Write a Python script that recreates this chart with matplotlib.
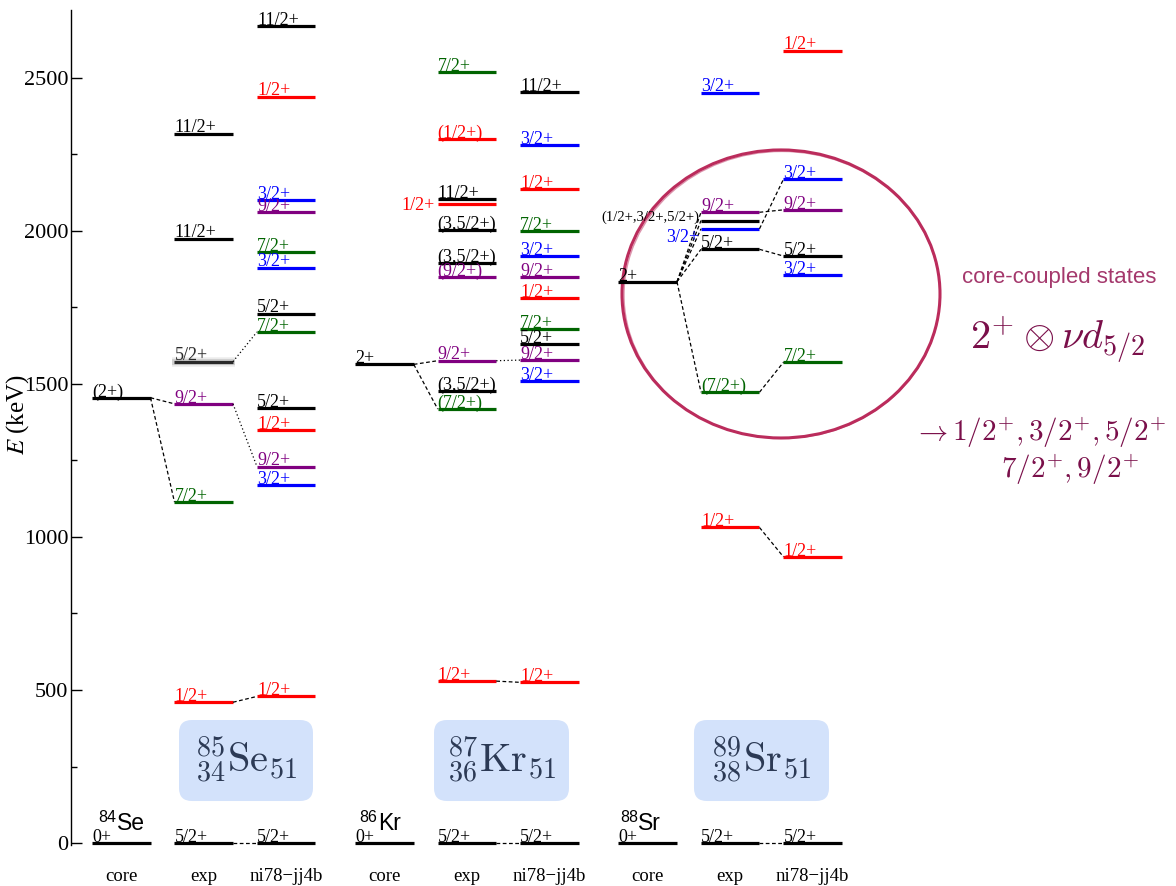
import matplotlib
matplotlib.use("Agg")
import matplotlib.pyplot as plt
from matplotlib.patches import Ellipse, FancyBboxPatch
from matplotlib.ticker import MultipleLocator

plt.rcParams['mathtext.fontset'] = 'cm'

# ---------------- data (keV) ----------------
groups = ["Se", "Kr", "Sr"]
core_mass = ["84", "86", "88"]
core_elem = ["Se", "Kr", "Sr"]
box_labels = [r"$^{85}_{34}\mathrm{Se}_{51}$", r"$^{87}_{36}\mathrm{Kr}_{51}$", r"$^{89}_{38}\mathrm{Sr}_{51}$"]
column_names = ["core", "exp", "ni78\u2212jj4b"]

core_E = [[0, 1455], [0, 1564], [0, 1834]]
core_lab = [["0+", "(2+)"], ["0+", "2+"], ["0+", "2+"]]

se_exp_E = [0, 460, 1114, 1435, 1573, 1975, 2318]
se_exp_lab = ["5/2+", "1/2+", "7/2+", "9/2+", "5/2+", "11/2+", "11/2+"]
se_exp_col = ["k", "r", "g", "p", "gray", "k", "k"]

se_ni_E = [0, 479, 1169, 1230, 1350, 1420, 1670, 1730, 1880, 1930, 2061, 2101, 2439, 2670]
se_ni_lab = ["5/2+", "1/2+", "3/2+", "9/2+", "1/2+", "5/2+", "7/2+", "5/2+", "3/2+", "7/2+", "9/2+", "3/2+", "1/2+", "11/2+"]
se_ni_col = ["k", "r", "b", "p", "r", "k", "g", "k", "b", "g", "p", "b", "r", "k"]

kr_exp_E = [0, 529, 1418, 1477, 1576, 1849, 1896, 2003, 2087, 2103, 2300, 2519]
kr_exp_lab = ["5/2+", "1/2+", "(7/2+)", "(3,5/2+)", "9/2+", "(9/2+)", "(3,5/2+)", "(3,5/2+)", "1/2+", "11/2+", "(1/2+)", "7/2+"]
kr_exp_col = ["k", "r", "g", "k", "p", "p", "k", "k", "r", "k", "r", "g"]

kr_ni_E = [0, 525, 1510, 1578, 1630, 1679, 1780, 1849, 1919, 2000, 2136, 2280, 2453]
kr_ni_lab = ["5/2+", "1/2+", "3/2+", "9/2+", "5/2+", "7/2+", "1/2+", "9/2+", "3/2+", "7/2+", "1/2+", "3/2+", "11/2+"]
kr_ni_col = ["k", "r", "b", "p", "k", "g", "r", "p", "b", "g", "r", "b", "k"]

sr_exp_E = [0, 1031, 1473, 1940, 2007, 2034, 2061, 2452]
sr_exp_lab = ["5/2+", "1/2+", "(7/2+)", "5/2+", "3/2+", "(1/2+,3/2+,5/2+)", "9/2+", "3/2+"]
sr_exp_col = ["k", "r", "g", "k", "b", "k", "p", "b"]

sr_ni_E = [0, 935, 1571, 1856, 1918, 2069, 2169, 2589]
sr_ni_lab = ["5/2+", "1/2+", "7/2+", "3/2+", "5/2+", "9/2+", "3/2+", "1/2+"]
sr_ni_col = ["k", "r", "g", "b", "k", "p", "b", "r"]

exp_E = [se_exp_E, kr_exp_E, sr_exp_E]
exp_lab = [se_exp_lab, kr_exp_lab, sr_exp_lab]
exp_col = [se_exp_col, kr_exp_col, sr_exp_col]
ni_E = [se_ni_E, kr_ni_E, sr_ni_E]
ni_lab = [se_ni_lab, kr_ni_lab, sr_ni_lab]
ni_col = [se_ni_col, kr_ni_col, sr_ni_col]

# connections: (group, from column, from index, to column, to index, style)
links = [
    (0, 0, 1, 1, 3, '--'), (0, 0, 1, 1, 2, '--'), (0, 1, 3, 2, 3, ':'),
    (0, 1, 4, 2, 6, ':'), (0, 1, 1, 2, 1, '--'), (0, 1, 0, 2, 0, '--'),
    (1, 0, 1, 1, 4, '--'), (1, 0, 1, 1, 2, '--'), (1, 1, 4, 2, 3, ':'),
    (1, 1, 1, 2, 1, '--'), (1, 1, 0, 2, 0, '--'),
    (2, 0, 1, 1, 2, '--'), (2, 0, 1, 1, 3, '--'), (2, 0, 1, 1, 4, '--'),
    (2, 0, 1, 1, 5, '--'), (2, 0, 1, 1, 6, '--'),
    (2, 1, 2, 2, 2, '--'), (2, 1, 3, 2, 4, '--'), (2, 1, 4, 2, 6, '--'),
    (2, 1, 6, 2, 5, '--'), (2, 1, 1, 2, 1, '--'), (2, 1, 0, 2, 0, '--'),
]

# labels drawn to the left of their level: (group, column, index)
left_labels = [(1, 1, 8), (2, 1, 4), (2, 1, 5)]

# ---------------- styling ----------------
cmap = {"k": "black", "r": "#ff0000", "b": "#0000ff", "g": "#006400", "p": "#800080", "gray": "#2a2a2a"}
serif = ["Liberation Serif", "DejaVu Serif"]
sans = ["Liberation Sans", "DejaVu Sans"]
W = 1.0
col_off = [0.0, 1.41, 2.82]
grp_off = 4.5
PX_X = 58.5     # pixels per x unit
PX_E = 0.306    # pixels per keV

fig = plt.figure(figsize=(11.76, 8.86), dpi=100)
ax = fig.add_axes([71 / 1176, 1 - 845 / 886, 1 - 71 / 1176, 835 / 886])
ax.set_xlim(-0.359, 18.53)
ax.set_ylim(-6.5, 2722)

def xleft(g, c):
    return g * grp_off + col_off[c]

def colE(g, c):
    return core_E[g] if c == 0 else (exp_E[g] if c == 1 else ni_E[g])

LFS = 13
for g in range(3):
    cols = [(core_E[g], core_lab[g], ["k"] * len(core_E[g])),
            (exp_E[g], exp_lab[g], exp_col[g]),
            (ni_E[g], ni_lab[g], ni_col[g])]
    for c, (Es, labs, cs) in enumerate(cols):
        x0 = xleft(g, c)
        for i, (E, lab, cc) in enumerate(zip(Es, labs, cs)):
            color = cmap[cc]
            if cc == "gray":
                for lw, a in [(7, 0.10), (4.5, 0.22)]:
                    ax.plot([x0 - 0.05, x0 + W + 0.03], [E, E], color="#666666", lw=lw, alpha=a,
                            solid_capstyle='butt', clip_on=False)
                ax.text(x0 + 0.01, E + 2, lab, color="#999999", fontsize=LFS, family=serif,
                        ha='left', va='baseline', alpha=0.35)
            ax.plot([x0, x0 + W], [E, E], color=color, lw=2.3, solid_capstyle='butt', clip_on=False)
            if (g, c, i) in left_labels:
                if lab.startswith("(1/2"):
                    ax.text(x0 - 0.02, E + 10, lab, color=color, fontsize=10.5, family=serif,
                            ha='right', va='center')
                elif g == 2:
                    ax.text(x0 - 0.03, E - 30, lab, color=color, fontsize=LFS, family=serif,
                            ha='right', va='center')
                else:
                    ax.text(x0 - 0.06, E - 5, lab, color=color, fontsize=LFS, family=serif,
                            ha='right', va='center')
            else:
                ax.text(x0, E + 4, lab, color=color, fontsize=LFS, family=serif,
                        ha='left', va='baseline')

for g, c1, i1, c2, i2, ls in links:
    E1 = colE(g, c1)[i1]
    E2 = colE(g, c2)[i2]
    ax.plot([xleft(g, c1) + W, xleft(g, c2)], [E1, E2], color="black", lw=0.9,
            ls=(0, (3, 2)) if ls == '--' else (0, (1, 2)), clip_on=False)

# core nucleus names (mass number as small superscript)
name_dx = [0.42, 0.39, 0.34]
for g in range(3):
    xe = xleft(g, 0) + name_dx[g]
    ax.text(xe, 42, core_elem[g], fontsize=16.5, family=sans, ha='left', va='baseline')
    ax.text(xe - 0.01, 42 + 8 / PX_E, core_mass[g], fontsize=11.5, family=sans,
            ha='right', va='baseline')

# column names
for g in range(3):
    for c in range(3):
        ax.text(xleft(g, c) + 0.5, -108, column_names[c], fontsize=13.5, family=serif,
                ha='center', va='center', clip_on=False)

# nucleus boxes
box_px = [(179, 313), (434, 569), (694, 829)]
for g in range(3):
    xa = (box_px[g][0] - 92) / PX_X
    xb = (box_px[g][1] - 92) / PX_X
    ya = (843 - 801) / PX_E
    yb = (843 - 720) / PX_E
    ax.add_patch(FancyBboxPatch((xa, ya), xb - xa, yb - ya,
                                boxstyle="round,pad=0,rounding_size=0.22",
                                mutation_aspect=PX_X / PX_E,
                                fc="#d3e2fb", ec="none", zorder=0))
    ax.text((xa + xb) / 2, (ya + yb) / 2, box_labels[g], fontsize=29, color="#2c3a55",
            ha='center', va='center')

# circle
ax.add_patch(Ellipse(((781 - 92) / PX_X, (843 - 294) / PX_E), 318 / PX_X, 288 / PX_E,
                     fill=False, ec="#bb2c5c", lw=2.2, clip_on=False))
ax.add_patch(Ellipse(((782 - 92) / PX_X, (843 - 295) / PX_E), 316 / PX_X, 287 / PX_E,
                     fill=False, ec="#bb2c5c", lw=1.0, alpha=0.5, clip_on=False))

# annotation text
fig.text(1059 / 1176, 1 - 278 / 886, "core-coupled states", fontsize=16, family=sans,
         color="#a4386c", ha='center', va='center')
fig.text(1058 / 1176, 1 - 340 / 886, r"$2^{+}\otimes\nu d_{5/2}$", fontsize=29,
         color="#7a0f4a", ha='center', va='center')
fig.text(1040 / 1176, 1 - 433 / 886, r"$\rightarrow 1/2^{+}, 3/2^{+}, 5/2^{+}$", fontsize=21,
         color="#7a0f4a", ha='center', va='center')
fig.text(1070 / 1176, 1 - 470 / 886, r"$7/2^{+}, 9/2^{+}$", fontsize=21,
         color="#7a0f4a", ha='center', va='center')

# axes styling
for s in ["top", "right", "bottom"]:
    ax.spines[s].set_visible(False)
ax.spines["left"].set_linewidth(1.0)
ax.set_xticks([])
ax.yaxis.set_major_locator(MultipleLocator(500))
ax.yaxis.set_minor_locator(MultipleLocator(250))
ax.tick_params(axis='y', which='major', direction='in', length=8, width=1, pad=2, labelsize=16)
ax.tick_params(axis='y', which='minor', direction='in', length=4, width=1)
for lab in ax.get_yticklabels():
    lab.set_family(serif)
ax.set_ylabel(r"$E$ (keV)", fontsize=18, family=serif, math_fontfamily='stix')
ax.yaxis.set_label_coords(-0.036, 0.515)

fig.savefig("out.png", dpi=100)
